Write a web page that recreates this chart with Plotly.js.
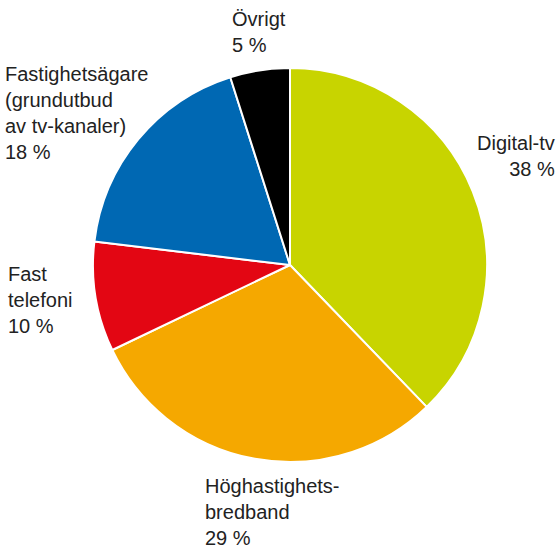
<!DOCTYPE html>
<html>
<head>
<meta charset="utf-8">
<script src="https://cdn.plot.ly/plotly-3.0.1.min.js"></script>
<style>html,body{margin:0;padding:0;background:#fff;}#chart{width:560px;height:552px;}</style>
</head>
<body>
<div id="chart"></div>
<script>
var labels = ["Digital-tv", "Höghastighets-<br>bredband", "Fast<br>telefoni", "Fastighetsägare<br>(grundutbud<br>av tv-kanaler)", "Övrigt"];
// slice sizes as drawn in the picture (share of the circle, %)
var values = [37.8, 30.1, 9.0, 18.2, 4.9];
// percentages as printed in the labels
var pctLabels = ["38 %", "29 %", "10 %", "18 %", "5 %"];
var colors = ["#c8d400", "#f5a800", "#e30613", "#0068b3", "#000000"];

// label placement (layout only)
var labelPos = [
  {x: 557, y: 156, xanchor: "right", align: "right"},
  {x: 203, y: 512, xanchor: "left", align: "left"},
  {x: 6, y: 300, xanchor: "left", align: "left"},
  {x: 3, y: 113, xanchor: "left", align: "left"},
  {x: 230, y: 32, xanchor: "left", align: "left"}
];
var W = 560, H = 552;
var annotations = labels.map(function(l, i) {
  var p = labelPos[i];
  return {
    text: l + "<br>" + pctLabels[i],
    xref: "paper", yref: "paper",
    x: p.x / W, y: 1 - p.y / H,
    xanchor: p.xanchor, yanchor: "middle", align: p.align,
    showarrow: false,
    font: {family: "Liberation Sans, Arial, sans-serif", size: 20, color: "#222222"}
  };
});

var cx = 290, cy = 265, r = 197;
var data = [{
  type: "pie",
  labels: labels,
  values: values,
  sort: false,
  direction: "clockwise",
  rotation: 0,
  textinfo: "none",
  hoverinfo: "none",
  marker: {colors: colors, line: {color: "#ffffff", width: 2}},
  domain: {x: [(cx - r) / W, (cx + r) / W], y: [1 - (cy + r) / H, 1 - (cy - r) / H]}
}];
var layout = {
  width: W, height: H,
  margin: {l: 0, r: 0, t: 0, b: 0},
  showlegend: false,
  paper_bgcolor: "#ffffff",
  annotations: annotations
};
Plotly.newPlot("chart", data, layout, {displayModeBar: false, staticPlot: true});
</script>
</body>
</html>
